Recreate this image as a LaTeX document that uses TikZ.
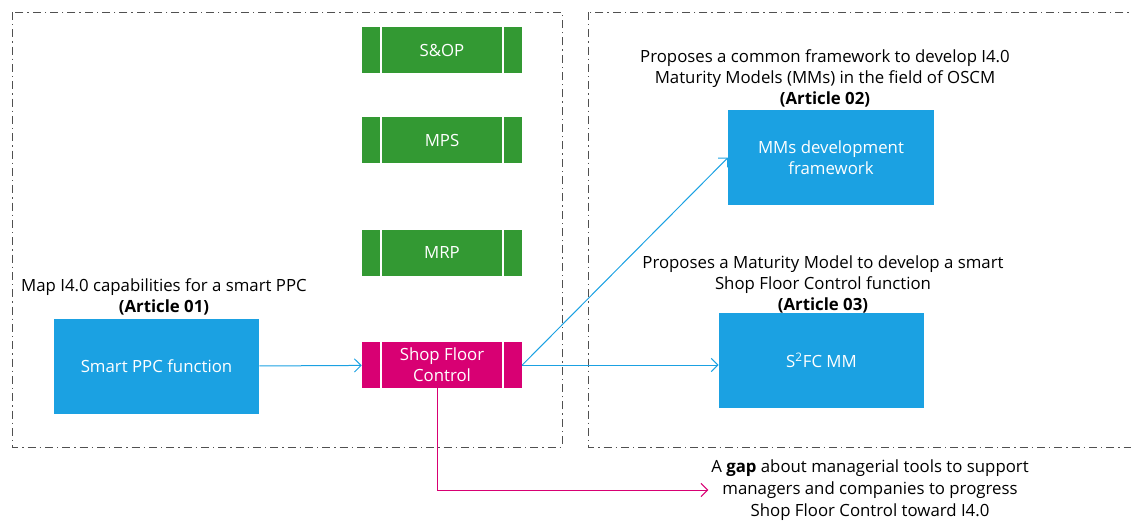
\documentclass[tikz,border=0pt]{standalone}
\usepackage{fontspec}
\setmainfont{Open Sans}
\usetikzlibrary{arrows.meta,positioning}
\definecolor{boxblue}{RGB}{27,161,226}
\definecolor{boxgreen}{RGB}{51,153,51}
\definecolor{boxmag}{RGB}{216,0,115}
\definecolor{framegray}{RGB}{80,80,80}

\begin{document}
\begin{tikzpicture}[x=0.75pt,y=-0.75pt,
    every node/.style={font=\fontsize{12.6}{15.75}\selectfont},
    every text node part/.style={align=center},
    proc/.style={fill=#1,text=white,minimum width=120pt,minimum height=34.5pt,inner sep=0pt,
      path picture={\draw[white,line width=0.8pt]
        ([xshift=14.25pt]path picture bounding box.north west) -- ([xshift=14.25pt]path picture bounding box.south west)
        ([xshift=-14.25pt]path picture bounding box.north east) -- ([xshift=-14.25pt]path picture bounding box.south east);}},
    art/.style={fill=boxblue,text=white,minimum width=154pt,minimum height=71.25pt,inner sep=0pt},
    lbl/.style={inner sep=0pt},
    frame/.style={framegray,line width=0.75pt,dash pattern=on 6pt off 3pt on 1pt off 3pt}]
    \useasboundingbox (0,0) rectangle (1131,522);

    \draw[frame] (12,12) rectangle (562,447);
    \draw[frame] (588,12) rectangle (1140,447);

    \node[proc=boxgreen] (sop) at (442,50) {S\&OP};
    \node[proc=boxgreen] (mps) at (442,140) {MPS};
    \node[proc=boxgreen] (mrp) at (442,252.5) {MRP};
    \node[proc=boxmag] (sfc) at (442,365) {Shop Floor\\ Control};

    \node[art] (ppc) at (156.5,366.5) {Smart PPC function};
    \node[lbl] (ppclabel) at (164,297) {Map I4.0 capabilities for a smart PPC\\ \textbf{(Article 01)}};

    \node[art] (mmdev) at (831,157.5) {MMs development\\ framework};
    \node[lbl] (mmlabel) at (825,78) {Proposes a common framework to develop I4.0\\ Maturity Models (MMs) in the field of OSCM\\ \textbf{(Article 02)}};

    \node[art] (sfcmm) at (821.5,360.5) {S\textsuperscript{2}FC MM};
    \node[lbl] (sfclabel) at (823,284) {Proposes a Maturity Model to develop a smart\\ Shop Floor Control function\\ \textbf{(Article 03)}};

    \node[lbl,font=\fontsize{12.6}{16.5}\selectfont] (gap) at (870,490) {A \textbf{gap} about managerial tools to support\\ managers and companies to progress\\ Shop Floor Control toward I4.0};

    \draw[->,>={Straight Barb[length=5pt,width=10pt]},boxblue,line width=0.75pt] (ppc) -- (sfc);
    \draw[->,>={Straight Barb[length=5pt,width=10pt]},boxblue,line width=0.75pt] (sfc.east) -- (mmdev.west);
    \draw[->,>={Straight Barb[length=5pt,width=10pt]},boxblue,line width=0.75pt] (sfc.east) -- (sfc.east -| sfcmm.west);
    \draw[->,>={Straight Barb[length=5pt,width=10pt]},boxmag,line width=0.75pt] ([xshift=-3.75pt]sfc.south) |- ([xshift=-2pt]gap.west);

  \end{tikzpicture}
\end{document}
